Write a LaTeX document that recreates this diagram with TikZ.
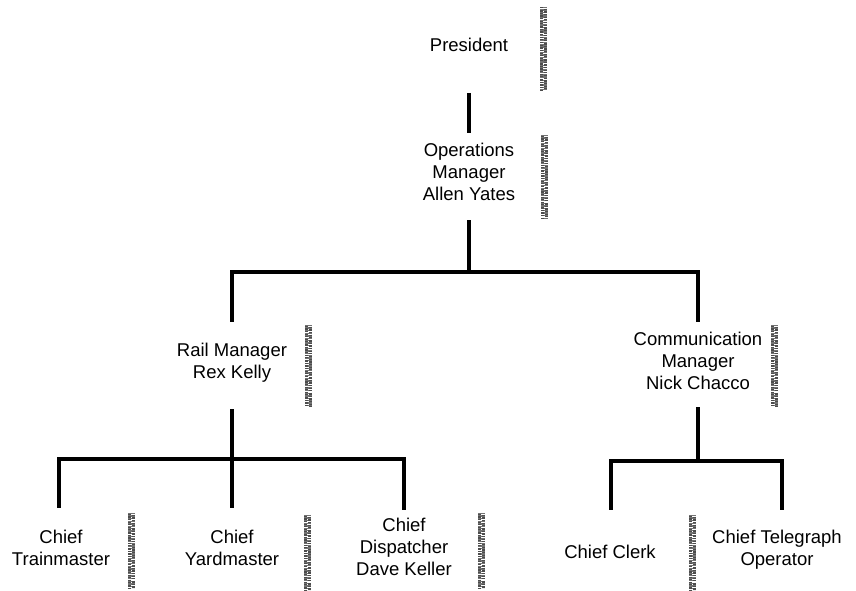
\documentclass[tikz,border=0pt]{standalone}
\usepackage{fontspec}
\setmainfont{Liberation Sans}
\begin{document}
\begin{tikzpicture}[x=1pt,y=1pt,
  lab/.style={anchor=north, inner sep=0pt, outer sep=0pt, align=center,
    font=\fontsize{18.5}{22}\selectfont,
    execute at begin node=\strut, execute at end node=\strut},
  conn/.style={line width=3.2pt, line cap=butt},
  scanbar/.style={line width=7pt, black!55, dash pattern=on 1.1pt off 0.9pt on 2pt off 1.2pt on 0.7pt off 1.6pt},
  scanbarb/.style={line width=3pt, black!70, dash pattern=on 0.8pt off 1.9pt on 1.5pt off 1.1pt}
]
\useasboundingbox (0,0) rectangle (856,-591);

% nodes
\node[lab] (pres)  at (469,-36.6)  {President};
\node[lab] (ops)   at (469,-142.6) {Operations\\Manager\\Allen Yates};
\node[lab] (rail)  at (232,-342.6) {Rail Manager\\Rex Kelly};
\node[lab] (comm)  at (698,-331.6) {Communication\\Manager\\Nick Chacco};
\node[lab] (train) at (61,-529.6)  {Chief\\Trainmaster};
\node[lab] (yard)  at (232,-529.6) {Chief\\Yardmaster};
\node[lab] (disp)  at (404,-517.6) {Chief\\Dispatcher\\Dave Keller};
\node[lab] (clerk) at (610,-542.6) {Chief Clerk};
\node[lab] (tele)  at (777,-529.6) {Chief Telegraph\\Operator};

% junctions
\coordinate (b1) at (469,-272);
\coordinate (b2) at (232,-459);
\coordinate (b3) at (698,-461);

% connectors
\draw[conn, shorten <=34.4pt, shorten >=9.6pt] (pres.south) -- (ops.north);
\draw[conn, shorten <=13.4pt] (ops.south) -- (b1);
\draw[conn, shorten >=20.6pt] (b1) -| (rail.north);
\draw[conn, shorten >=9.6pt] (b1) -| (comm.north);

\draw[conn, shorten <=24.4pt] (rail.south) -- (b2);
\draw[conn, shorten >=21.6pt] (b2) -| ([xshift=-2pt]train.north);
\draw[conn, shorten >=21.6pt] (b2) -- (yard.north);
\draw[conn, shorten >=7.6pt] (b2) -| (disp.north);

\draw[conn, shorten <=11.7pt] (comm.south) -- (b3);
\draw[conn, shorten >=32.6pt] (b3) -| ([xshift=1pt]clerk.north);
\draw[conn, shorten >=19.6pt] (b3) -| ([xshift=5pt]tele.north);

% scanned edge strips
\foreach \x/\ya/\yb in {543/-7/-90, 544/-135/-218, 308/-325/-407, 774/-325/-407,
                        131/-513/-588, 307/-515/-590, 481/-513/-588, 692/-515/-590}{
  \draw[scanbar] (\x,\ya) -- (\x,\yb);
  \draw[scanbarb] (\x-1.5,\ya-0.5) -- (\x-1.5,\yb);
  \draw[scanbarb] (\x+2,\ya-1.7) -- (\x+2,\yb);
}
\end{tikzpicture}
\end{document}
